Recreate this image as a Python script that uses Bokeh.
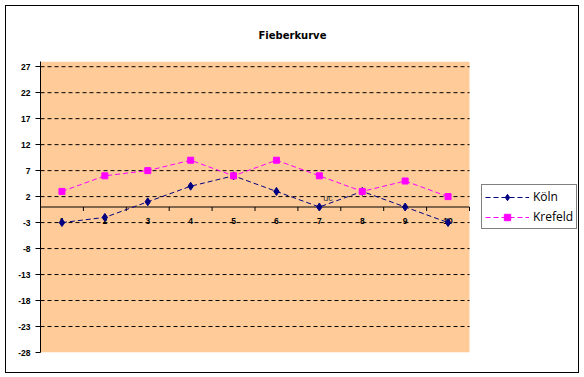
from bokeh.plotting import figure
from bokeh.models import FixedTicker, Legend, LegendItem, CustomJSTickFormatter, InlineStyleSheet, Title
from bokeh.core.properties import value
from bokeh.embed import file_html
from bokeh.resources import INLINE

# ---- data ----
title_text = "Fieberkurve"
categories = [1, 2, 3, 4, 5, 6, 7, 8, 9, 10]
category_labels = ["1", "2", "3", "4", "5", "6", "7", "8", "9", "10"]
koeln = [-3, -2, 1, 4, 6, 3, 0, 3, 0, -3]
krefeld = [3, 6, 7, 9, 6, 9, 6, 3, 5, 2]
series_names = ["Köln", "Krefeld"]
y_ticks = [-28, -23, -18, -13, -8, -3, 2, 7, 12, 17, 22, 27]
y_min, y_max = -28, 28
note_text = "uc"
note_x, note_y = 7.2, 1.8

# ---- style / layout ----
W, H = 584, 377
LEFT, RIGHT, TOP, BOTTOM = 40, 6, 61, 25
PLOT_W = 429              # width of the peach plot area in pixels
PEACH = "#FFCC99"
NAVY = "#000080"
MAGENTA = "#FF00FF"
frame_w = W - LEFT - RIGHT
frame_h = H - TOP - BOTTOM
px_per_unit = frame_h / (y_max - y_min)
x_lo = categories[0] - 0.5
x_hi = categories[-1] + 0.5
x_end = x_lo + (x_hi - x_lo) * frame_w / PLOT_W

p = figure(width=W, height=H, x_range=(x_lo, x_end), y_range=(y_min, y_max),
           x_axis_type=None, output_backend="svg", toolbar_location=None,
           min_border_left=LEFT, min_border_right=RIGHT,
           min_border_top=TOP, min_border_bottom=BOTTOM)
p.background_fill_color = "white"
p.border_fill_color = "white"
p.outline_line_color = None
p.grid.visible = False
p.title.visible = False

# title
main_title = Title(text=title_text, align="left", offset=218, standoff=42,
                   text_font="DejaVu Sans", text_font_size="10px",
                   text_font_style="bold", text_color="black")
p.add_layout(main_title, "above")

# y axis
ax = p.yaxis[0]
ax.ticker = FixedTicker(ticks=y_ticks)
ax.formatter = CustomJSTickFormatter(code="return String(tick);")
ax.axis_line_color = "black"
ax.major_tick_line_color = "black"
ax.major_tick_out = 5
ax.major_tick_in = 0
ax.minor_tick_line_color = None
ax.major_label_standoff = 5
ax.major_label_text_font = "Liberation Sans"
ax.major_label_text_font_size = "8.5px"
ax.major_label_text_font_style = "bold"
ax.major_label_text_color = "black"

# plot area background
p.quad(left=[x_lo], right=[x_hi], bottom=[y_min], top=[y_max],
       fill_color=PEACH, line_color=None)

# dashed grid lines
grid_vals = y_ticks[1:]
p.segment(x0=[x_lo] * len(grid_vals), y0=grid_vals, x1=[x_hi] * len(grid_vals), y1=grid_vals,
          line_color="black", line_width=1, line_dash="4 3")

# horizontal category axis at y = 0
p.segment(x0=[x_lo], y0=[0], x1=[x_hi], y1=[0], line_color="black", line_width=1)
tick_x = [c + 0.5 for c in categories]
p.segment(x0=tick_x, y0=[0] * len(tick_x), x1=tick_x, y1=[-4 / px_per_unit] * len(tick_x),
          line_color="black", line_width=1)
p.text(x=categories, y=[0] * len(categories), text=category_labels,
       text_align="center", text_baseline="top", y_offset=11,
       text_font=value("Liberation Sans"), text_font_size="8.5px",
       text_font_style="bold", text_color="black")

# stray note
p.text(x=[note_x], y=[note_y], text=[note_text], text_align="center", text_baseline="middle",
       text_font=value("Liberation Sans"), text_font_size="9px", text_color="#333333")

# series
l1 = p.line(categories, koeln, line_color=NAVY, line_width=1, line_dash="5 3")
s1 = p.scatter(categories, koeln, marker="diamond", size=8,
               fill_color=NAVY, line_color=NAVY)
l2 = p.line(categories, krefeld, line_color=MAGENTA, line_width=1, line_dash="5 3")
s2 = p.scatter(categories, krefeld, marker="square", size=6, fill_color=MAGENTA, line_color=MAGENTA)

legend = Legend(items=[LegendItem(label=series_names[0], renderers=[l1, s1]),
                       LegendItem(label=series_names[1], renderers=[l2, s2])],
                location=(441, 123))
legend.border_line_color = "black"
legend.border_line_width = 1
legend.background_fill_color = "white"
legend.background_fill_alpha = 1
legend.glyph_width = 44
legend.glyph_height = 16
legend.label_standoff = 4
legend.padding = 3
legend.spacing = 3
legend.margin = 0
legend.label_text_font = "Open Sans"
legend.label_text_font_size = "12px"
legend.label_text_color = "black"
p.add_layout(legend, "center")

# outer chart border (CSS overlay, no data)
p.stylesheets = [InlineStyleSheet(css=(
    ":host { position: relative; }"
    ":host::after { content: ''; position: absolute; left: 5px; top: 5px; "
    "width: 572px; height: 366px; border: 1px solid black; pointer-events: none; }"
))]

open("out.html", "w").write(file_html(p, INLINE))
